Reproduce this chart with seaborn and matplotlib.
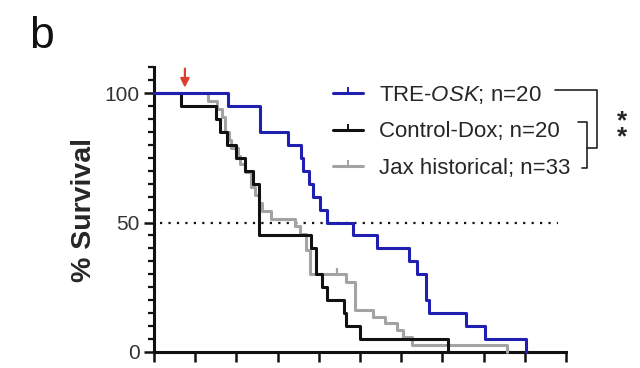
import numpy as np
import pandas as pd
import matplotlib
matplotlib.use("Agg")
import matplotlib.pyplot as plt
import seaborn as sns
from matplotlib.lines import Line2D
from matplotlib.path import Path

# survival steps (time in axis-tick units, % survival after each event)
tre_t = [0, 1.80, 2.57, 3.24, 3.56, 3.61, 3.75, 3.87, 4.03, 4.19, 4.82, 5.40, 6.19, 6.39, 6.59, 6.67, 7.58, 8.03, 9.03]
tre_s = [100, 95, 85, 80, 75, 70, 65, 60, 55, 50, 45, 40, 35, 30, 20, 15, 10, 5, 0]

ctrl_t = [0, 0.66, 1.50, 1.60, 1.78, 2.00, 2.21, 2.41, 2.56, 3.80, 3.92, 4.07, 4.19, 4.62, 4.66, 5.01, 7.14]
ctrl_s = [100, 95, 90, 85, 80, 75, 70, 65, 45, 40, 30, 25, 20, 15, 10, 5, 0]

jax_t = [0, 1.31, 1.52, 1.64, 1.72, 1.83, 1.88, 2.03, 2.08, 2.20, 2.36, 2.45, 2.54, 2.62, 2.85,
         3.42, 3.55, 3.70, 3.78, 4.66, 4.88, 5.32, 5.60, 5.90, 6.05, 6.26, 8.57]
jax_s = [100, 97.0, 93.9, 90.9, 84.8, 81.8, 78.8, 75.8, 72.7, 69.7, 63.6, 60.6, 57.6, 54.5, 51.5,
         48.5, 45.5, 39.4, 30.3, 27.2, 16.3, 13.6, 11.2, 8.4, 5.6, 2.8, 0]
jax_censor_t = [4.45]
jax_censor_s = [30.3]

groups = ["TRE-OSK", "Control-Dox", "Jax historical"]
labels = ["TRE-$\\it{OSK}$; n=20", "Control-Dox; n=20", "Jax historical; n=33"]
colors = {"TRE-OSK": "#1f1fb0", "Control-Dox": "#111111", "Jax historical": "#a3a3a3"}

df = pd.concat([
    pd.DataFrame({"t": tre_t, "s": tre_s, "group": "TRE-OSK"}),
    pd.DataFrame({"t": ctrl_t, "s": ctrl_s, "group": "Control-Dox"}),
    pd.DataFrame({"t": jax_t, "s": jax_s, "group": "Jax historical"}),
])

sns.set_style("ticks")
plt.rcParams['font.family'] = ['Liberation Sans', 'DejaVu Sans']
plt.rcParams['mathtext.fontset'] = 'custom'
plt.rcParams['mathtext.it'] = 'Liberation Sans:italic'
plt.rcParams['mathtext.rm'] = 'Liberation Sans'

fig = plt.figure(figsize=(6.4, 3.68), dpi=100)
ax = fig.add_axes([0.2406, 0.0435, 0.644, 0.774])

# draw grey first, black, then blue on top
for g in ["Jax historical", "Control-Dox", "TRE-OSK"]:
    sns.lineplot(data=df[df.group == g], x="t", y="s", color=colors[g], estimator=None,
                 drawstyle="steps-post", lw=2.2, ax=ax, legend=False, clip_on=False, zorder=3)

tick_marker = Path([(0, 0), (0, 1)])
ax.plot(jax_censor_t, jax_censor_s, ls="none", marker=tick_marker, ms=9,
        mec=colors["Jax historical"], mew=1.6, zorder=3)

ax.hlines(50, 0.15, 9.8, colors="#111111", linestyles=(0, (1, 2.8)), lw=1.6, zorder=2)

ax.set_xlim(0, 10)
ax.set_ylim(0, 110)
ax.set_xticks(np.arange(0, 11, 1))
ax.set_xticklabels([])
ax.set_yticks([0, 50, 100])
ax.set_yticks(np.arange(0, 111, 5), minor=True)
ax.tick_params(axis="both", which="major", length=7.5, width=1.8, color="#111111",
               labelsize=15, labelcolor="#333333", pad=3)
ax.tick_params(axis="y", which="minor", length=4, width=1.6, color="#111111")
ax.spines[['top', 'right']].set_visible(False)
for sp in ['left', 'bottom']:
    ax.spines[sp].set_linewidth(2.2)
    ax.spines[sp].set_color("#111111")
ax.set_xlabel("")
ax.set_ylabel("% Survival", fontsize=20.5, fontweight="bold", labelpad=5)

# red arrow marking treatment start
ax.annotate("", xy=(0.75, 101), xytext=(0.75, 110.5),
            arrowprops=dict(arrowstyle="-|>", color="#d9412b", lw=1.6, mutation_scale=13),
            annotation_clip=False)

handles = [Line2D([], [], color=colors[g], lw=2.2, marker=tick_marker, ms=8,
                  mew=1.4) for g in groups]
ax.legend(handles, labels, loc="upper left", bbox_to_anchor=(0.413, 0.972), frameon=False,
          fontsize=16, handlelength=1.35, handletextpad=0.72, labelspacing=0.69,
          borderaxespad=0)

# significance brackets
br = dict(color="#222222", lw=1.2, clip_on=False)
ax.plot([9.73, 10.75, 10.75, 10.51], [101.2, 101.2, 78.8, 78.8], **br)
ax.plot([10.29, 10.51, 10.51, 10.39], [88.8, 88.8, 71.0, 71.0], **br)
ax.text(11.36, 86.0, "*\n*", fontsize=19, fontweight="bold", ha="center", va="center",
        linespacing=0.62, clip_on=False)

fig.text(0.045, 0.87, "b", fontsize=32, color="#111111")

fig.savefig("out.png", dpi=100)
